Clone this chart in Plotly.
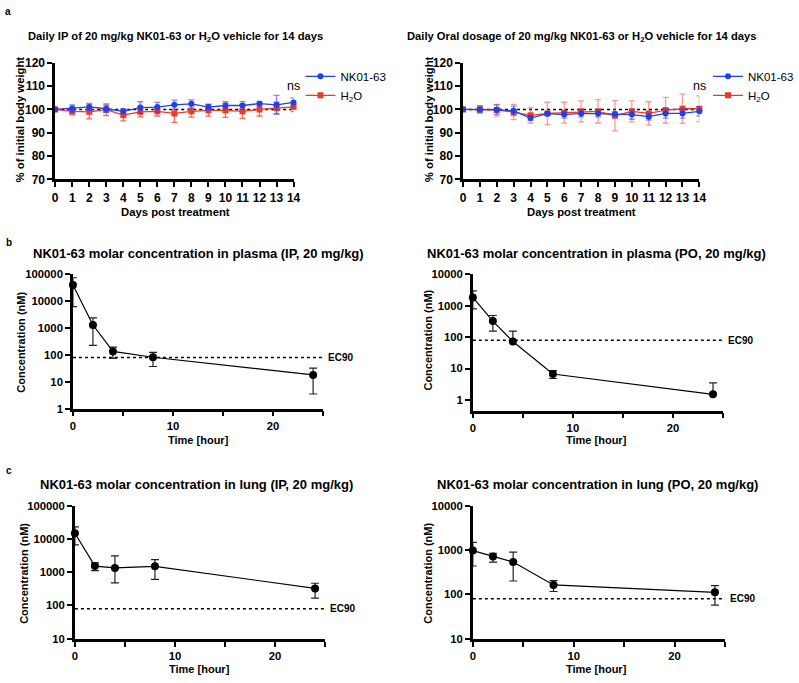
import math
import plotly.graph_objects as go

# ---------------- data ----------------
days = list(range(15))
ip_nk_mean = [100, 100.4, 101.1, 100.3, 99.2, 100.8, 101.0, 102.0, 102.4, 101.0, 101.7, 101.7, 102.5, 102.0, 103.0]
ip_nk_sd = [0, 1.5, 1.5, 1.5, 1.0, 2.5, 2.0, 2.0, 1.7, 1.3, 1.7, 1.7, 1.0, 4.0, 2.0]
ip_h2o_mean = [100, 99.2, 99.0, 99.9, 97.6, 99.0, 99.2, 98.3, 99.2, 99.6, 99.6, 99.2, 100.0, 100.6, 101.1]
ip_h2o_sd = [0, 1.5, 3.0, 2.5, 2.5, 2.2, 2.0, 3.8, 2.5, 2.5, 3.0, 3.0, 2.8, 2.5, 2.0]

po_nk_mean = [100, 100.0, 99.9, 99.4, 96.3, 98.2, 97.8, 98.3, 98.3, 98.0, 97.8, 96.9, 98.3, 98.3, 99.2]
po_nk_sd = [0, 1.5, 2.0, 2.0, 1.0, 0.5, 1.5, 1.5, 1.5, 1.0, 2.0, 1.5, 2.0, 2.0, 2.0]
po_h2o_mean = [100, 100.0, 99.7, 98.9, 97.5, 98.3, 98.6, 99.2, 99.2, 97.3, 99.2, 98.3, 99.7, 100.3, 100.3]
po_h2o_sd = [0, 1.5, 2.5, 3.3, 3.3, 4.8, 4.5, 4.5, 5.0, 6.5, 4.5, 5.0, 5.5, 6.3, 5.5]

hours = [0, 2, 4, 8, 24]
plasma_ip_mean = [40000, 1300, 135, 82, 18]
plasma_ip_upper = [75000, 2400, 196, 125, 32]
plasma_ip_lower = [6300, 225, 74, 37, 3.5]

plasma_po_mean = [1850, 325, 73, 6.7, 1.5]
plasma_po_upper = [3000, 490, 155, 8.6, 3.5]
plasma_po_lower = [800, 155, None, 4.8, None]

lung_ip_mean = [14800, 1520, 1340, 1500, 325]
lung_ip_upper = [23000, 1900, 3100, 2370, 465]
lung_ip_lower = [6600, 1120, 480, 610, 166]

lung_po_mean = [970, 713, 535, 163, 111]
lung_po_upper = [1480, 843, 890, 204, 158]
lung_po_lower = [436, 535, 200, 116, 57]

ec90 = 80

titles = [
    "Daily IP of 20 mg/kg NK01-63 or H<sub>2</sub>O vehicle for 14 days",
    "Daily Oral dosage of 20 mg/kg NK01-63 or H<sub>2</sub>O vehicle for 14 days",
    "NK01-63 molar concentration in plasma (IP, 20 mg/kg)",
    "NK01-63 molar concentration in plasma (PO, 20 mg/kg)",
    "NK01-63 molar concentration in lung (IP, 20 mg/kg)",
    "NK01-63 molar concentration in lung (PO, 20 mg/kg)",
]

# ---------------- layout helpers ----------------
W, H = 799, 683
FONT = "Liberation Sans, Arial, Helvetica, sans-serif"
BLUE = "#2040e8"
RED = "#ee3a24"


def px_x(v):
    return v / W


def px_y(v):
    return 1 - v / H


fig = go.Figure()

for ax in ["", "2"]:
    fig.add_trace(go.Scatter(x=[0, 14], y=[100, 100], mode="lines",
                             line=dict(color="black", width=1.5, dash="dot"),
                             showlegend=False, hoverinfo="skip",
                             xaxis="x" + ax, yaxis="y" + ax))


def bw(xs, mean, sd, name, color, ecolor, symbol, ax, legend):
    fig.add_trace(go.Scatter(
        x=xs, y=mean, name=name, mode="lines+markers",
        line=dict(color=color, width=1.3),
        marker=dict(color=color, size=6, symbol=symbol),
        error_y=dict(type="data", array=sd, visible=True, color=ecolor,
                     thickness=1.3, width=3),
        xaxis="x" + ax, yaxis="y" + ax, legend=legend, cliponaxis=False))


bw(days, ip_h2o_mean, ip_h2o_sd, "H<sub>2</sub>O", RED, "rgba(238,58,36,0.75)", "square", "", "legend")
bw(days, ip_nk_mean, ip_nk_sd, "NK01-63", BLUE, "rgba(40,60,232,0.6)", "circle", "", "legend")
bw(days, po_h2o_mean, po_h2o_sd, "H<sub>2</sub>O", RED, "rgba(238,58,36,0.5)", "square", "2", "legend2")
bw(days, po_nk_mean, po_nk_sd, "NK01-63", BLUE, "rgba(40,60,232,0.55)", "circle", "2", "legend2")


def pk(mean, upper, lower, ax):
    plus = [u - m for u, m in zip(upper, mean)]
    minus = [(m - l) if l is not None else 0 for l, m in zip(lower, mean)]
    fig.add_trace(go.Scatter(x=[0, 25], y=[ec90, ec90], mode="lines",
                             line=dict(color="black", width=1.6, dash="dot"),
                             showlegend=False, hoverinfo="skip",
                             xaxis="x" + ax, yaxis="y" + ax))
    fig.add_trace(go.Scatter(
        x=hours, y=mean, mode="lines+markers", showlegend=False,
        line=dict(color="black", width=1.2),
        marker=dict(color="black", size=8),
        error_y=dict(type="data", symmetric=False, array=plus, arrayminus=minus,
                     color="#222222", thickness=1.2, width=4),
        xaxis="x" + ax, yaxis="y" + ax, cliponaxis=False))
    fig.add_annotation(x=25, y=math.log10(ec90),
                       xref="x" + ax, yref="y" + ax, text="<b>EC90</b>",
                       showarrow=False, xanchor="left", xshift=3,
                       font=dict(family=FONT, size=10, color="black"))


pk(plasma_ip_mean, plasma_ip_upper, plasma_ip_lower, "3")
pk(plasma_po_mean, plasma_po_upper, plasma_po_lower, "4")
pk(lung_ip_mean, lung_ip_upper, lung_ip_lower, "5")
pk(lung_po_mean, lung_po_upper, lung_po_lower, "6")

tickfont = dict(family=FONT, size=12, color="black", weight="bold")
tickfont2 = dict(family=FONT, size=11.3, color="black", weight="bold")
common = dict(showline=True, linewidth=2.5, linecolor="black", ticks="outside",
              ticklen=5, tickwidth=2, tickcolor="black", showgrid=False,
              zeroline=False, fixedrange=True)

boxes = {
    "": ([53, 295], [57, 176]),
    "2": ([467, 707], [57, 176]),
    "3": ([71, 325], [273, 410]),
    "4": ([477, 731], [273, 412]),
    "5": ([73, 327], [509, 645]),
    "6": ([477, 733], [509, 645]),
}
yranges = {"3": [0, 5], "4": [-0.34, 4], "5": [1, 5], "6": [1, 4]}
layout = {}
for ax, (bx, by) in boxes.items():
    xd = [px_x(bx[0]), px_x(bx[1])]
    yd = [px_y(by[1]), px_y(by[0])]
    if ax in ("", "2"):
        layout["xaxis" + ax] = dict(common, domain=xd, range=[0, 14], tickvals=days,
                                    tickfont=tickfont, anchor="y" + ax)
        layout["yaxis" + ax] = dict(common, domain=yd, range=[70, 120],
                                    tickvals=[70, 80, 90, 100, 110, 120],
                                    tickfont=tickfont, anchor="x" + ax)
    else:
        layout["xaxis" + ax] = dict(common, domain=xd, range=[0, 25],
                                    tickmode="linear", tick0=0, dtick=10,
                                    minor=dict(tickmode="linear", tick0=0, dtick=5,
                                               ticks="outside", ticklen=5, tickwidth=2,
                                               tickcolor="black", showgrid=False),
                                    tickfont=tickfont2, anchor="y" + ax)
        yr = yranges[ax]
        decs = [10 ** k for k in range(max(0, math.ceil(yr[0])), int(yr[1]) + 1)]
        layout["yaxis" + ax] = dict(common, domain=yd, type="log", range=yr,
                                    tickvals=decs, ticktext=[str(d) for d in decs],
                                    tickfont=tickfont2, anchor="x" + ax)

fig.update_layout(**layout)


def txt(x, y, s, size, bold=True, angle=0, xanchor="center"):
    fig.add_annotation(x=px_x(x), y=px_y(y), xref="paper", yref="paper",
                       text=("<b>%s</b>" % s) if bold else s, showarrow=False,
                       textangle=angle, xanchor=xanchor, yanchor="middle",
                       font=dict(family=FONT, size=size, color="black"))


txt(175, 31, titles[0], 11.2)
txt(587, 31, titles[1], 11.2)
txt(198, 252, titles[2], 13)
txt(603, 252, titles[3], 13)
txt(196, 487, titles[4], 13)
txt(604, 487, titles[5], 13)

txt(17, 115, "% of initial body weight", 11.3, angle=-90)
txt(432, 115, "% of initial body weight", 11.3, angle=-90)
txt(175, 209, "Days post treatment", 11.3)
txt(587, 209, "Days post treatment", 11.3)
txt(18, 342, "Concentration (nM)", 11, angle=-90)
txt(432, 340, "Concentration (nM)", 11, angle=-90)
txt(198, 442, "Time [hour]", 11)
txt(603, 442, "Time [hour]", 11)
txt(21, 578, "Concentration (nM)", 11, angle=-90)
txt(432, 578, "Concentration (nM)", 11, angle=-90)
txt(200, 676, "Time [hour]", 11)
txt(603, 676, "Time [hour]", 11)

txt(0, 5, "a", 10, xanchor="left")
txt(1, 240, "b", 10, xanchor="left")
txt(1, 473, "c", 10, xanchor="left")

for ax in ["", "2"]:
    fig.add_annotation(x=14, y=110, xref="x" + ax, yref="y" + ax, text="ns",
                       showarrow=False, yanchor="middle",
                       font=dict(family=FONT, size=12.5, color="black"))

legend_common = dict(font=dict(family=FONT, size=11.5, color="black"),
                     bgcolor="rgba(0,0,0,0)", traceorder="reversed",
                     xanchor="left", yanchor="top", tracegroupgap=0,
                     itemwidth=30)
fig.update_layout(
    width=W, height=H, margin=dict(l=0, r=0, t=0, b=0),
    paper_bgcolor="white", plot_bgcolor="white",
    font=dict(family=FONT, color="black"),
    legend=dict(legend_common, x=px_x(302), y=px_y(56)),
    legend2=dict(legend_common, x=px_x(716), y=px_y(56)),
    showlegend=True,
)

fig.write_html("out.html", config={"displayModeBar": False},
               post_script="document.body.style.margin='0px';document.body.style.overflow='hidden';")
